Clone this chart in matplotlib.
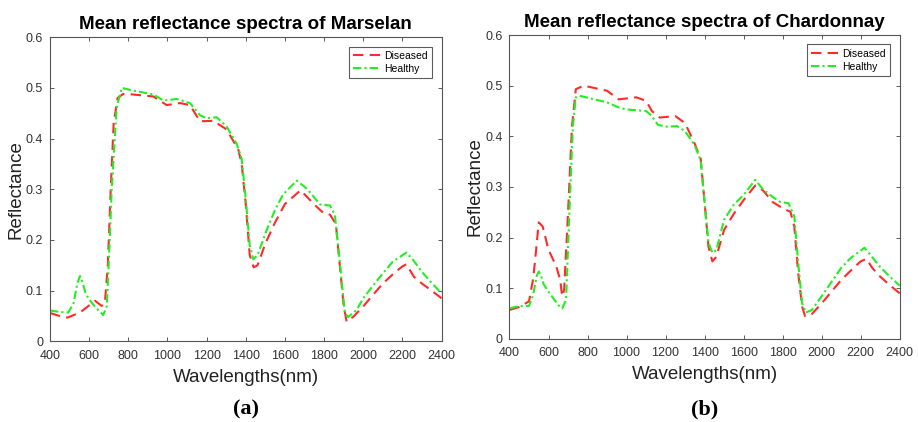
import matplotlib
matplotlib.use("Agg")
import matplotlib.pyplot as plt

plt.rcParams['font.family'] = ['Liberation Sans', 'DejaVu Sans']

# ---- Marselan (a)
mar_h_wl = [400, 450, 493, 520, 540, 553, 565, 580, 596, 630, 672, 690, 705, 715, 740, 766, 820, 928, 979,
            1047, 1115, 1166, 1200, 1251, 1302, 1353, 1379, 1400, 1420, 1438, 1460, 1506, 1550,
            1591, 1660, 1700, 1728, 1779, 1830, 1855, 1881, 1906, 1923, 1966, 2000, 2050, 2100,
            2150, 2220, 2250, 2300, 2350, 2400]
mar_h = [0.061, 0.058, 0.057, 0.075, 0.115, 0.129, 0.118, 0.097, 0.085, 0.068, 0.052, 0.07, 0.2, 0.3, 0.46, 0.5,
         0.495, 0.487, 0.475, 0.478, 0.47, 0.446, 0.44, 0.442, 0.424, 0.39, 0.36, 0.28, 0.19, 0.162,
         0.17, 0.219, 0.26, 0.29, 0.317, 0.305, 0.294, 0.27, 0.268, 0.25, 0.154, 0.056, 0.048,
         0.062, 0.085, 0.11, 0.134, 0.157, 0.175, 0.163, 0.137, 0.115, 0.095]

mar_d_wl = [400, 450, 490, 553, 590, 630, 664, 680, 695, 710, 725, 745, 774, 820, 928, 996, 1064,
            1115, 1166, 1234, 1302, 1362, 1379, 1400, 1420, 1440, 1460, 1500, 1550, 1600, 1680,
            1750, 1800, 1830, 1860, 1880, 1900, 1915, 1950, 2000, 2050, 2100, 2150, 2200, 2220,
            2260, 2300, 2350, 2400]
mar_d = [0.056, 0.05, 0.047, 0.057, 0.068, 0.08, 0.07, 0.075, 0.15, 0.3, 0.43, 0.48, 0.488, 0.487,
         0.483, 0.466, 0.47, 0.466, 0.434, 0.435, 0.418, 0.378, 0.35, 0.27, 0.17, 0.146, 0.15,
         0.193, 0.235, 0.271, 0.298, 0.27, 0.252, 0.25, 0.232, 0.15, 0.07, 0.039, 0.049, 0.069,
         0.092, 0.114, 0.132, 0.148, 0.152, 0.127, 0.114, 0.1, 0.085]

# ---- Chardonnay (b)
cha_h_wl = [400, 450, 500, 520, 540, 550, 562, 575, 600, 650, 670, 690, 710, 725, 740, 760, 900, 960, 1000,
            1100, 1130, 1160, 1200, 1260, 1300, 1350, 1380, 1400, 1420, 1440, 1460, 1500, 1550,
            1600, 1660, 1700, 1750, 1790, 1830, 1860, 1880, 1900, 1920, 1950, 2000, 2050, 2100,
            2150, 2220, 2250, 2300, 2350, 2400]
cha_h = [0.06, 0.065, 0.065, 0.085, 0.125, 0.133, 0.125, 0.108, 0.093, 0.067, 0.06, 0.077, 0.28, 0.42, 0.477,
         0.48, 0.467, 0.457, 0.453, 0.45, 0.44, 0.423, 0.419, 0.42, 0.41, 0.382, 0.352, 0.27,
         0.19, 0.17, 0.175, 0.235, 0.265, 0.284, 0.314, 0.295, 0.28, 0.27, 0.268, 0.242, 0.15,
         0.07, 0.052, 0.057, 0.084, 0.112, 0.14, 0.16, 0.18, 0.166, 0.142, 0.123, 0.105]

cha_d_wl = [400, 450, 500, 520, 530, 550, 570, 600, 640, 660, 670, 680, 700, 720, 740, 780, 900,
            960, 1050, 1100, 1130, 1170, 1250, 1300, 1350, 1380, 1400, 1420, 1440, 1460, 1500,
            1550, 1600, 1660, 1700, 1750, 1800, 1840, 1860, 1880, 1900, 1915, 1950, 2000, 2050,
            2100, 2150, 2200, 2230, 2260, 2300, 2350, 2400]
cha_d = [0.057, 0.063, 0.074, 0.116, 0.15, 0.23, 0.222, 0.176, 0.143, 0.116, 0.084, 0.096, 0.248,
         0.418, 0.493, 0.5, 0.49, 0.473, 0.477, 0.47, 0.45, 0.437, 0.44, 0.426, 0.385, 0.356,
         0.27, 0.182, 0.153, 0.162, 0.215, 0.247, 0.274, 0.303, 0.293, 0.27, 0.258, 0.251, 0.222,
         0.13, 0.064, 0.045, 0.049, 0.07, 0.093, 0.116, 0.135, 0.153, 0.158, 0.14, 0.123, 0.106,
         0.09]

panels = [
    ("Mean reflectance spectra of Marselan", "(a)", mar_d_wl, mar_d, mar_h_wl, mar_h,
     [0.0545, 0.191, 0.4265, 0.721]),
    ("Mean reflectance spectra of Chardonnay", "(b)", cha_d_wl, cha_d, cha_h_wl, cha_h,
     [0.555, 0.197, 0.425, 0.720]),
]

fig = plt.figure(figsize=(9.18, 4.22), dpi=100)

for title, tag, dwl, d, hwl, h, pos in panels:
    ax = fig.add_axes(pos)
    ax.plot(dwl, d, color='#ff2a2a', linestyle=(0, (5, 3)), linewidth=1.5, label='Diseased')
    ax.plot(hwl, h, color='#22ee22', linestyle=(0, (4, 1.5, 1, 1.5)), linewidth=1.5, label='Healthy')
    ax.set_xlim(400, 2400)
    ax.set_ylim(0, 0.6)
    ax.set_xticks(range(400, 2401, 200))
    ax.set_yticks([0, 0.1, 0.2, 0.3, 0.4, 0.5, 0.6])
    ax.set_yticklabels(['0', '0.1', '0.2', '0.3', '0.4', '0.5', '0.6'])
    ax.tick_params(direction='in', top=True, right=True, labelsize=9, length=3,
                   color='#444444', labelcolor='#333333', width=0.6)
    ax.tick_params(axis='x', pad=6)
    ax.tick_params(axis='y', pad=5)
    for s in ax.spines.values():
        s.set_color('#555555')
        s.set_linewidth(0.8)
    ax.set_title(title, fontsize=13.5, fontweight='bold', pad=6)
    ax.set_xlabel('Wavelengths(nm)', fontsize=13.5, color='#222222', labelpad=5)
    ax.set_ylabel('Reflectance', fontsize=13.5, color='#222222', labelpad=1)
    leg = ax.legend(loc='upper right', fontsize=7.5, frameon=True, fancybox=False,
                    handlelength=2.6, borderaxespad=0.9, labelspacing=0.3,
                    borderpad=0.4, handletextpad=0.4)
    leg.get_frame().set_edgecolor('#333333')
    leg.get_frame().set_linewidth(0.8)
    fig.text(pos[0] + pos[2] / 2, 0.03, tag, ha='center', va='center', fontsize=16,
             fontweight='bold', family='Liberation Serif')

fig.savefig('out.png', dpi=100)
